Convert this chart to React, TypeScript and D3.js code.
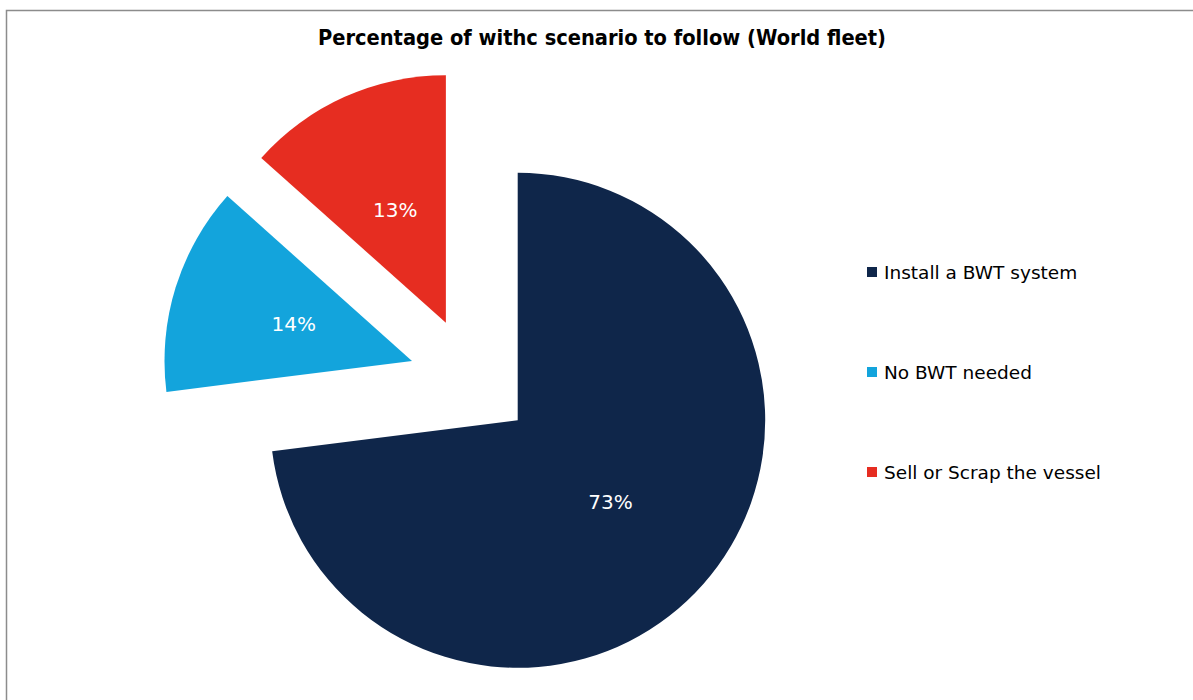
import React from "react";
import * as d3 from "d3";

const title = "Percentage of withc scenario to follow (World fleet)";
const categories = ["Install a BWT system", "No BWT needed", "Sell or Scrap the vessel"];
const values = [73.0, 13.6, 13.4];
const labels = ["73%", "14%", "13%"];
const colors = ["#0f264a", "#13a4dc", "#e62d21"];

const W = 1193;
const H = 700;
const cx = 471.2;
const cy = 379.3;
const R = 247.5;
const explode = 62;

export default function App() {
  const pie = d3.pie<number>().sort(null).value((d) => d)(values);
  const arc = d3.arc<d3.PieArcDatum<number>>().innerRadius(0).outerRadius(R);
  const labelArc = d3.arc<d3.PieArcDatum<number>>().innerRadius(R * 0.5).outerRadius(R * 0.5);
  const legendY = d3.scalePoint<string>().domain(categories).range([272, 472]);

  return (
    <svg
      width={W}
      height={H}
      style={{ position: "absolute", left: 0, top: 0, background: "#fff" }}
      fontFamily="'DejaVu Sans', sans-serif"
    >
      <rect x={6.5} y={10.5} width={1300} height={800} fill="#fff" stroke="#8c8c8c" strokeWidth={1.5} />
      <text
        x={602}
        y={44.5}
        textAnchor="middle"
        fontWeight="bold"
        fontSize={21}
        fill="#000"
        textLength={568}
        lengthAdjust="spacingAndGlyphs"
      >
        {title}
      </text>
      <g transform={`translate(${cx},${cy})`}>
        {pie.map((p, i) => {
          const mid = (p.startAngle + p.endAngle) / 2;
          const dx = Math.sin(mid) * explode;
          const dy = -Math.cos(mid) * explode;
          const [lx, ly] = labelArc.centroid(p);
          return (
            <g key={i} transform={`translate(${dx},${dy})`}>
              <path d={arc(p) || ""} fill={colors[i]} />
              <text
                x={lx}
                y={ly}
                textAnchor="middle"
                dominantBaseline="central"
                fill="#fff"
                fontSize={20}
              >
                {labels[i]}
              </text>
            </g>
          );
        })}
      </g>
      {categories.map((c, i) => {
        const y = legendY(c) as number;
        return (
          <g key={c}>
            <rect x={867} y={y - 5} width={10} height={10} fill={colors[i]} />
            <text x={884} y={y} dominantBaseline="central" fontSize={18.5} fill="#000">
              {c}
            </text>
          </g>
        );
      })}
    </svg>
  );
}
